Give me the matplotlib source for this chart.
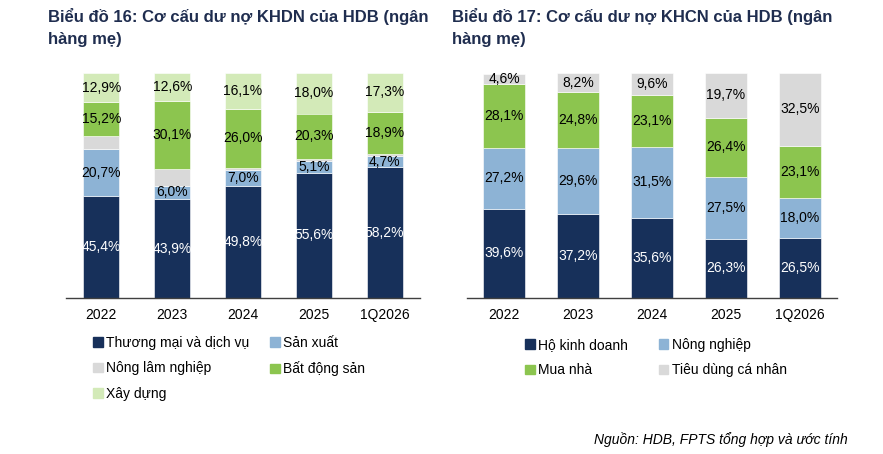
import numpy as np
import matplotlib.pyplot as plt
from matplotlib.patches import Patch

plt.rcParams["font.family"] = ["Liberation Sans", "DejaVu Sans"]

# Dữ liệu
years = ["2022", "2023", "2024", "2025", "1Q2026"]

# Biểu đồ 16 - KHDN
khdn_names = ["Thương mại và dịch vụ", "Sản xuất", "Nông lâm nghiệp", "Bất động sản", "Xây dựng"]
thuong_mai = [45.4, 43.9, 49.8, 55.6, 58.2]
san_xuat = [20.7, 6.0, 7.0, 5.1, 4.7]
nong_lam = [5.8, 7.4, 1.1, 1.0, 0.9]
bat_dong_san = [15.2, 30.1, 26.0, 20.3, 18.9]
xay_dung = [12.9, 12.6, 16.1, 18.0, 17.3]

# Biểu đồ 17 - KHCN
khcn_names = ["Hộ kinh doanh", "Nông nghiệp", "Mua nhà", "Tiêu dùng cá nhân"]
ho_kinh_doanh = [39.6, 37.2, 35.6, 26.3, 26.5]
nong_nghiep = [27.2, 29.6, 31.5, 27.5, 18.0]
mua_nha = [28.1, 24.8, 23.1, 26.4, 23.1]
tieu_dung = [4.6, 8.2, 9.6, 19.7, 32.5]

NAVY = "#17305a"
BLUE = "#8db3d5"
GRAY = "#d9d9d9"
GREEN = "#8cc54f"
LGREEN = "#d3eab8"
TITLE_C = "#1f2d4f"


def fmt(v):
    return f"{v:.1f}%".replace(".", ",")


def stacked(ax, series, colors, width, show):
    x = np.arange(len(years))
    bottom = np.zeros(len(years))
    for vals, c, lab in zip(series, colors, show):
        vals = np.array(vals)
        ax.bar(x, vals, width, bottom=bottom, color=c, edgecolor="white", linewidth=0.4)
        if lab:
            tc = "white" if c == NAVY else "black"
            for xi, b, v in zip(x, bottom, vals):
                ax.text(xi, b + v / 2, fmt(v), ha="center", va="center", fontsize=10, color=tc)
        bottom += vals
    ax.set_xticks(x)
    ax.set_xticklabels(years, fontsize=10)
    ax.set_xlim(-0.5, 4.5)
    ax.set_ylim(0, 100)
    ax.tick_params(axis="x", length=0, pad=7)
    ax.set_yticks([])
    for s in ["top", "right", "left"]:
        ax.spines[s].set_visible(False)
    ax.spines["bottom"].set_color("#404040")
    ax.spines["bottom"].set_linewidth(1.0)


def row_major(items, ncol=2):
    # legend của matplotlib xếp theo cột, đổi lại để xếp theo hàng
    return [items[i] for c in range(ncol) for i in range(c, len(items), ncol)]


fig = plt.figure(figsize=(8.83, 4.54), dpi=100)

ax1 = fig.add_axes([66 / 883, 1 - 298 / 454, 354 / 883, 225 / 454])
c1 = [NAVY, BLUE, GRAY, GREEN, LGREEN]
stacked(ax1, [thuong_mai, san_xuat, nong_lam, bat_dong_san, xay_dung],
        c1, 0.51, [True, True, False, True, True])

ax2 = fig.add_axes([467 / 883, 1 - 298 / 454, 370 / 883, 225 / 454])
c2 = [NAVY, BLUE, GREEN, GRAY]
stacked(ax2, [ho_kinh_doanh, nong_nghiep, mua_nha, tieu_dung],
        c2, 0.58, [True, True, True, True])

# Tiêu đề
fig.text(48 / 883, 1 - 8 / 454, "Biểu đồ 16: Cơ cấu dư nợ KHDN của HDB (ngân\nhàng mẹ)",
         ha="left", va="top", fontsize=12, fontweight="bold", color=TITLE_C, linespacing=1.55)
fig.text(452 / 883, 1 - 8 / 454, "Biểu đồ 17: Cơ cấu dư nợ KHCN của HDB (ngân\nhàng mẹ)",
         ha="left", va="top", fontsize=12, fontweight="bold", color=TITLE_C, linespacing=1.55)

# Chú thích
h1 = [Patch(color=c) for c in c1]
fig.legend(row_major(h1), row_major(khdn_names), loc="upper left",
           bbox_to_anchor=(93 / 883, 1 - 336 / 454),
           ncol=2, frameon=False, fontsize=10, handlelength=0.7, handleheight=0.7,
           handletextpad=0.25, columnspacing=1.5, labelspacing=0.82, borderpad=0, borderaxespad=0)

h2 = [Patch(color=c) for c in c2]
fig.legend(row_major(h2), row_major(khcn_names), loc="upper left",
           bbox_to_anchor=(525 / 883, 1 - 338 / 454),
           ncol=2, frameon=False, fontsize=10, handlelength=0.7, handleheight=0.7,
           handletextpad=0.25, columnspacing=2.2, labelspacing=0.82, borderpad=0, borderaxespad=0)

fig.text(848 / 883, 1 - 440 / 454, "Nguồn: HDB, FPTS tổng hợp và ước tính",
         ha="right", va="center", fontsize=10, style="italic", color="black")

fig.savefig("out.png", dpi=100)
